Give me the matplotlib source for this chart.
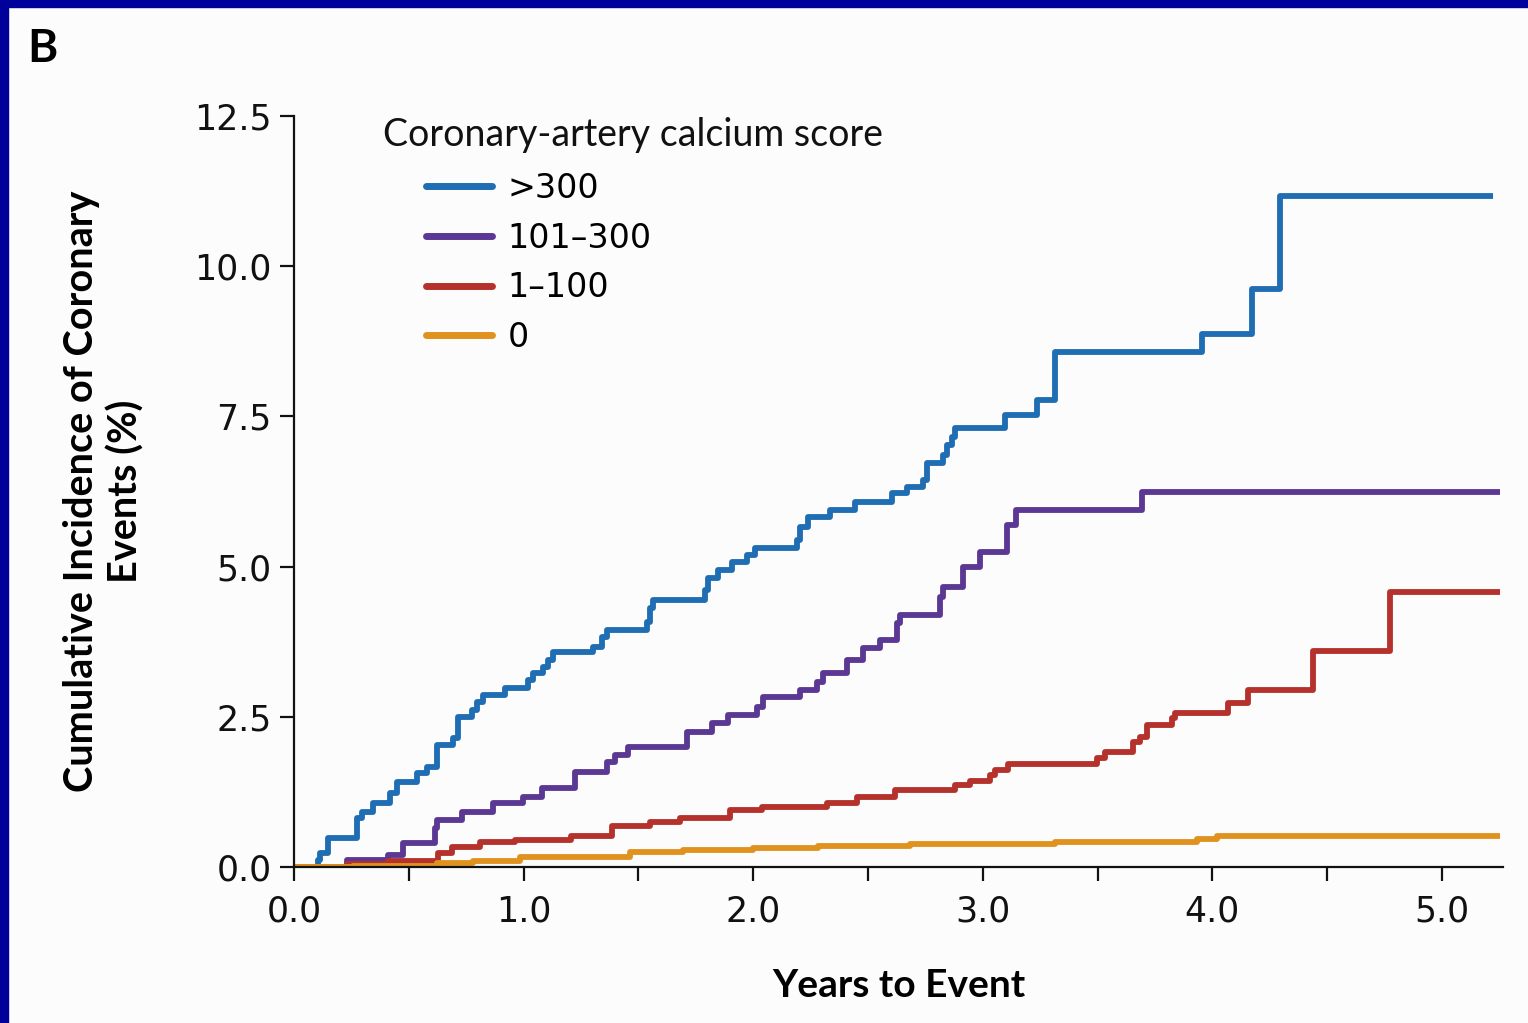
import matplotlib
matplotlib.use("Agg")
import matplotlib.pyplot as plt
from matplotlib.patches import Rectangle

# step curves: time of each jump (years) and the cumulative incidence (%) after it
t_300 = [0.0, 0.105, 0.113, 0.148, 0.274, 0.296, 0.344, 0.418, 0.449, 0.536, 0.579,
         0.623, 0.692, 0.714, 0.775, 0.797, 0.823, 0.919, 1.019, 1.041, 1.084, 1.106,
         1.128, 1.302, 1.341, 1.363, 1.537, 1.551, 1.564, 1.790, 1.803, 1.847, 1.908,
         1.973, 2.008, 2.190, 2.204, 2.239, 2.334, 2.443, 2.605, 2.670, 2.740, 2.757,
         2.827, 2.844, 2.866, 2.879, 3.097, 3.236, 3.314, 3.955, 4.172, 4.294, 5.222]
y_300 = [0.0, 0.12, 0.23, 0.48, 0.82, 0.92, 1.07, 1.23, 1.41, 1.56, 1.66,
         2.03, 2.15, 2.50, 2.61, 2.75, 2.86, 2.98, 3.11, 3.23, 3.33, 3.45,
         3.58, 3.66, 3.83, 3.94, 4.08, 4.31, 4.44, 4.61, 4.81, 4.94, 5.08,
         5.19, 5.31, 5.44, 5.66, 5.83, 5.94, 6.08, 6.22, 6.32, 6.44, 6.72,
         6.86, 7.02, 7.16, 7.31, 7.52, 7.77, 8.57, 8.87, 9.62, 11.17, 11.17]

t_101 = [0.0, 0.231, 0.409, 0.475, 0.614, 0.623, 0.732, 0.867, 0.997, 1.080, 1.224,
         1.363, 1.398, 1.455, 1.712, 1.821, 1.890, 2.017, 2.043, 2.204, 2.278, 2.304,
         2.409, 2.478, 2.552, 2.626, 2.639, 2.814, 2.827, 2.914, 2.988, 3.105, 3.145,
         3.693, 5.253]
y_101 = [0.0, 0.12, 0.20, 0.40, 0.65, 0.78, 0.92, 1.07, 1.17, 1.31, 1.58,
         1.75, 1.86, 2.00, 2.25, 2.40, 2.53, 2.66, 2.83, 2.95, 3.08, 3.23,
         3.45, 3.65, 3.78, 4.06, 4.19, 4.49, 4.66, 5.00, 5.24, 5.69, 5.94,
         6.24, 6.24]

t_1 = [0.0, 0.231, 0.409, 0.627, 0.688, 0.810, 0.963, 1.206, 1.385, 1.551, 1.681,
       1.899, 2.038, 2.321, 2.452, 2.618, 2.879, 2.944, 3.031, 3.053, 3.110, 3.497,
       3.532, 3.654, 3.685, 3.715, 3.824, 3.837, 4.068, 4.155, 4.438, 4.774, 5.253]
y_1 = [0.0, 0.05, 0.10, 0.23, 0.33, 0.42, 0.45, 0.52, 0.68, 0.75, 0.82,
       0.95, 1.00, 1.07, 1.17, 1.28, 1.36, 1.43, 1.53, 1.61, 1.71, 1.81,
       1.91, 2.08, 2.16, 2.36, 2.48, 2.56, 2.73, 2.95, 3.60, 4.58, 4.58]

t_0 = [0.0, 0.257, 0.623, 0.780, 0.984, 1.463, 1.694, 1.999, 2.282, 2.683, 3.314,
       3.933, 4.020, 5.253]
y_0 = [0.0, 0.02, 0.07, 0.10, 0.17, 0.25, 0.28, 0.32, 0.35, 0.38, 0.42,
       0.47, 0.52, 0.52]

labels = [">300", "101\u2013300", "1\u2013100", "0"]
colors = ["#1f6db3", "#5b3893", "#b5312b", "#e0921f"]
series = [(t_300, y_300), (t_101, y_101), (t_1, y_1), (t_0, y_0)]

y_ticks = [0.0, 2.5, 5.0, 7.5, 10.0, 12.5]
x_ticks = [0.0, 0.5, 1.0, 1.5, 2.0, 2.5, 3.0, 3.5, 4.0, 4.5, 5.0]

narrow = ["Liberation Sans Narrow", "DejaVu Sans"]

fig = plt.figure(figsize=(15.28, 10.23), dpi=100, facecolor="#fcfcfc")
# dark blue frame on the left and top
fig.patches.append(Rectangle((0, 0), 8 / 1528, 1, transform=fig.transFigure,
                             color="#00009a", zorder=10))
fig.patches.append(Rectangle((0, 1 - 7 / 1023), 1, 7 / 1023, transform=fig.transFigure,
                             color="#00009a", zorder=10))

ax = fig.add_axes([294 / 1528, 156 / 1023, 1209 / 1528, 751 / 1023])
ax.set_facecolor("#fcfcfc")

for (t, y), lab, c in zip(series, labels, colors):
    ax.step(t, y, where="post", color=c, lw=4.2, label=lab, solid_capstyle="butt")

ax.set_xlim(0, 5.266)
ax.set_ylim(0, 12.5)
ax.spines["top"].set_visible(False)
ax.spines["right"].set_visible(False)
for s in ["left", "bottom"]:
    ax.spines[s].set_linewidth(1.6)
    ax.spines[s].set_color("#111111")

ax.set_yticks(y_ticks)
ax.set_yticklabels([f"{v:.1f}" for v in y_ticks])
ax.set_xticks(x_ticks)
ax.set_xticklabels([f"{v:.1f}" if v == int(v) else "" for v in x_ticks])
ax.tick_params(direction="out", length=10, width=1.6, color="#111111", pad=6)
ax.tick_params(axis="x", pad=10)
for lbl in ax.get_xticklabels() + ax.get_yticklabels():
    lbl.set_fontfamily(narrow)
    lbl.set_fontsize(25)
    lbl.set_color("#111111")

ax.set_xlabel("Years to Event", fontsize=28, fontweight="bold", labelpad=28,
              family="Lato")
ax.set_ylabel("Cumulative Incidence of Coronary\nEvents (%)", fontsize=28.5,
              fontweight="bold", labelpad=36, family="Lato", linespacing=1.2)

# legend title sits left of the indented entries
ax.text((383 - 294) / 1209, 1 - (135 - 116) / 751,
        "Coronary-artery calcium score", transform=ax.transAxes,
        fontsize=27, family="Lato", va="center", ha="left", color="#111111")
leg = ax.legend(loc="upper left", bbox_to_anchor=(0.098, 0.943), frameon=False,
                handlelength=2.0, handletextpad=0.45, labelspacing=0.5,
                borderaxespad=0, prop={"family": narrow, "size": 24})
for line in leg.get_lines():
    line.set_linewidth(5)
    line.set_solid_capstyle("round")

fig.text(27 / 1528, 1 - 49 / 1023, "B", fontsize=33, fontweight="bold",
         family="Lato", va="center", ha="left")

fig.savefig("out.png", dpi=100, facecolor=fig.get_facecolor())
